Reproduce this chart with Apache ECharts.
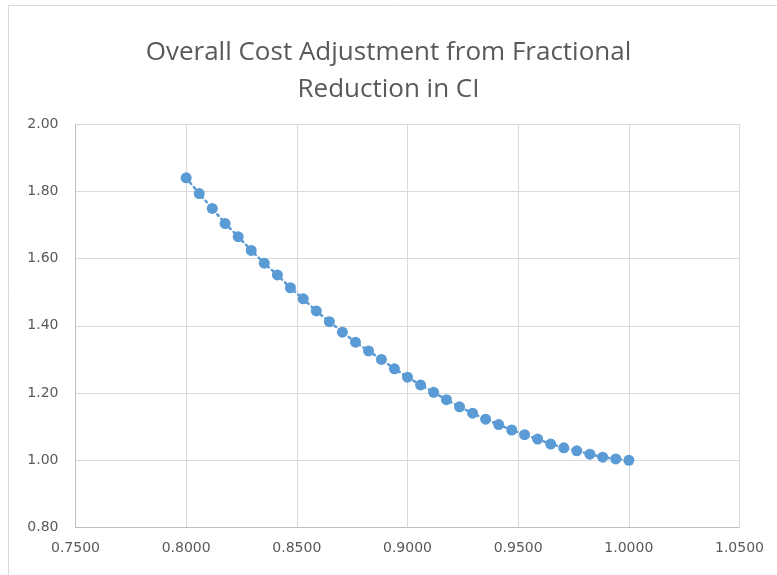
<!DOCTYPE html>
<html>
<head>
<meta charset="utf-8">
<script src="https://cdn.jsdelivr.net/npm/echarts@6/dist/echarts.min.js"></script>
<style>
  html, body { margin: 0; padding: 0; background: #fff; }
  #chart { width: 777px; height: 575px; }
</style>
</head>
<body>
<div id="chart"></div>
<script>
// Fraction of CI retained (x) and resulting overall cost adjustment factor (y)
const ciFraction = [
  0.8000, 0.8059, 0.8118, 0.8176, 0.8235, 0.8294, 0.8353, 0.8412, 0.8471,
  0.8529, 0.8588, 0.8647, 0.8706, 0.8765, 0.8824, 0.8882, 0.8941, 0.9000,
  0.9059, 0.9118, 0.9176, 0.9235, 0.9294, 0.9353, 0.9412, 0.9471, 0.9529,
  0.9588, 0.9647, 0.9706, 0.9765, 0.9824, 0.9882, 0.9941, 1.0000
];
const costAdjustment = [
  1.840, 1.793, 1.749, 1.704, 1.665, 1.624, 1.586, 1.551, 1.513,
  1.480, 1.444, 1.412, 1.381, 1.351, 1.325, 1.300, 1.272, 1.247,
  1.224, 1.202, 1.180, 1.159, 1.140, 1.122, 1.106, 1.090, 1.076,
  1.063, 1.048, 1.037, 1.028, 1.018, 1.009, 1.004, 1.000
];
const xTicks = { min: 0.75, max: 1.05, step: 0.05 };
const yTicks = { min: 0.8, max: 2.0, step: 0.2 };

const points = ciFraction.map((x, i) => [x, costAdjustment[i]]);
const textColor = '#595959';
const gridColor = '#d9d9d9';
const titleFont = '"Open Sans", "Liberation Sans", sans-serif';
const labelFont = '"DejaVu Sans", "Liberation Sans", sans-serif';

const chart = echarts.init(document.getElementById('chart'), null, { renderer: 'canvas' });
chart.setOption({
  backgroundColor: '#ffffff',
  animation: false,
  graphic: [{
    type: 'rect',
    shape: { x: 8.5, y: 5.5, width: 1000, height: 1000 },
    style: { fill: 'none', stroke: '#d9d9d9', lineWidth: 1 },
    silent: true
  }],
  title: {
    text: 'Overall Cost Adjustment from Fractional\nReduction in CI',
    left: 'center',
    top: 29,
    textStyle: {
      color: textColor,
      fontFamily: titleFont,
      fontWeight: 'normal',
      fontSize: 26,
      lineHeight: 37
    }
  },
  grid: { left: 75.5, right: 37.5, top: 124, bottom: 47.5 },
  xAxis: {
    type: 'value',
    min: xTicks.min, max: xTicks.max, interval: xTicks.step,
    axisLine: { show: true, lineStyle: { color: '#bfbfbf', width: 1 } },
    axisTick: { show: false },
    splitLine: { show: true, lineStyle: { color: gridColor, width: 1 } },
    axisLabel: {
      color: textColor, fontFamily: labelFont, fontSize: 14, margin: 14,
      formatter: v => v.toFixed(4)
    }
  },
  yAxis: {
    type: 'value',
    min: yTicks.min, max: yTicks.max, interval: yTicks.step,
    axisLine: { show: true, lineStyle: { color: '#bfbfbf', width: 1 } },
    axisTick: { show: false },
    splitLine: { show: true, lineStyle: { color: gridColor, width: 1 } },
    axisLabel: {
      color: textColor, fontFamily: labelFont, fontSize: 14, margin: 17,
      formatter: v => v.toFixed(2)
    }
  },
  series: [{
    type: 'line',
    data: points,
    symbol: 'circle',
    symbolSize: 11,
    showAllSymbol: true,
    itemStyle: { color: '#5b9bd5' },
    lineStyle: { color: '#5b9bd5', width: 2.5, type: [2, 4], cap: 'round' }
  }]
});
</script>
</body>
</html>
